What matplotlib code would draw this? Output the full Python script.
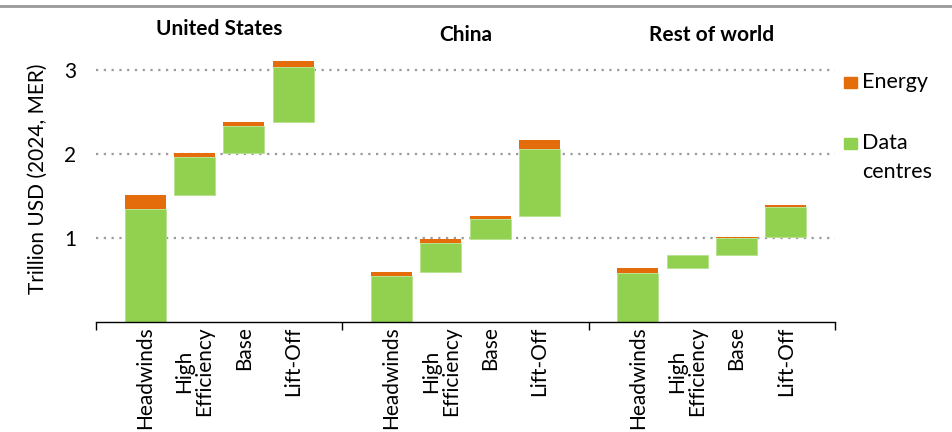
import matplotlib
matplotlib.use("Agg")
import matplotlib.pyplot as plt
from matplotlib.patches import Rectangle
from matplotlib.lines import Line2D

regions = ["United States", "China", "Rest of world"]
scenarios = ["Headwinds", "High\nEfficiency", "Base", "Lift-Off"]
data_centres = {
    "United States": [1.345, 0.45, 0.325, 0.66],
    "China": [0.544, 0.355, 0.23, 0.80],
    "Rest of world": [0.583, 0.147, 0.198, 0.357],
}
energy = {
    "United States": [0.167, 0.045, 0.045, 0.067],
    "China": [0.047, 0.048, 0.036, 0.107],
    "Rest of world": [0.064, 0.004, 0.02, 0.024],
}
yticks = [1, 2, 3]

GREEN = "#92D050"
ORANGE = "#E46C0A"
FONT = ["Lato", "DejaVu Sans"]
plt.rcParams["font.family"] = FONT

W, H = 953, 432
fig = plt.figure(figsize=(W/100, H/100), dpi=100)
ax = fig.add_axes([96/W, 110/H, 739/W, 3.4*84/H])

xs, labels = [], []
for g, reg in enumerate(regions):
    base = 0.0
    for i, sc in enumerate(scenarios):
        x = g*5 + i + 1
        dc = data_centres[reg][i]
        en = energy[reg][i]
        ax.bar(x, dc, bottom=base, width=0.83, color=GREEN, edgecolor="#b8e08e", linewidth=0.6)
        ax.bar(x, en, bottom=base+dc, width=0.83, color=ORANGE, linewidth=0)
        base += dc + en
        xs.append(x)
        labels.append(sc)

ax.set_xlim(0, 15)
ax.set_ylim(0, 3.4)
ax.set_yticks(yticks)
ax.set_yticklabels([str(v) for v in yticks], fontsize=15)
ax.tick_params(axis="y", length=0, pad=14)
ax.set_xticks(xs)
ax.set_xticklabels(labels, rotation=90, fontsize=15, va="top", ha="center", linespacing=1.0)
ax.tick_params(axis="x", which="major", length=0, pad=3)
ax.set_xticks([0, 5, 10, 15], minor=True)
ax.tick_params(axis="x", which="minor", length=6, width=1, color="black", direction="out")
for s in ["left", "right", "top"]:
    ax.spines[s].set_visible(False)
ax.spines["bottom"].set_color("black")
ax.spines["bottom"].set_linewidth(1)
ax.set_axisbelow(True)
ax.yaxis.grid(True, linestyle=(0, (1, 2.5)), color="#999999", linewidth=1.6)
ax.set_ylabel("Trillion USD (2024, MER)", fontsize=15, labelpad=12)

title_y = [0.933, 0.919, 0.919]
for g, reg in enumerate(regions):
    xc = g*5 + 2.5
    xf = (96 + xc/15*739)/W
    fig.text(xf, title_y[g], reg, ha="center", va="center", fontsize=15, fontweight="bold")

fig.add_artist(Line2D([0, 1], [1-6/H, 1-6/H], color="#999999", linewidth=2, transform=fig.transFigure))

# legend (manual)
fig.add_artist(Rectangle((844/W, 1-88/H), 13/W, 11/H, color=ORANGE, transform=fig.transFigure))
fig.text(862/W, 1-82/H, "Energy", ha="left", va="center", fontsize=15.5)
fig.add_artist(Rectangle((844/W, 1-149/H), 13/W, 11/H, color=GREEN, transform=fig.transFigure))
fig.text(862/W, 1-143/H, "Data", ha="left", va="center", fontsize=15.5)
fig.text(862/W, 1-172/H, "centres", ha="left", va="center", fontsize=15.5)

fig.savefig("out.png", dpi=100)
